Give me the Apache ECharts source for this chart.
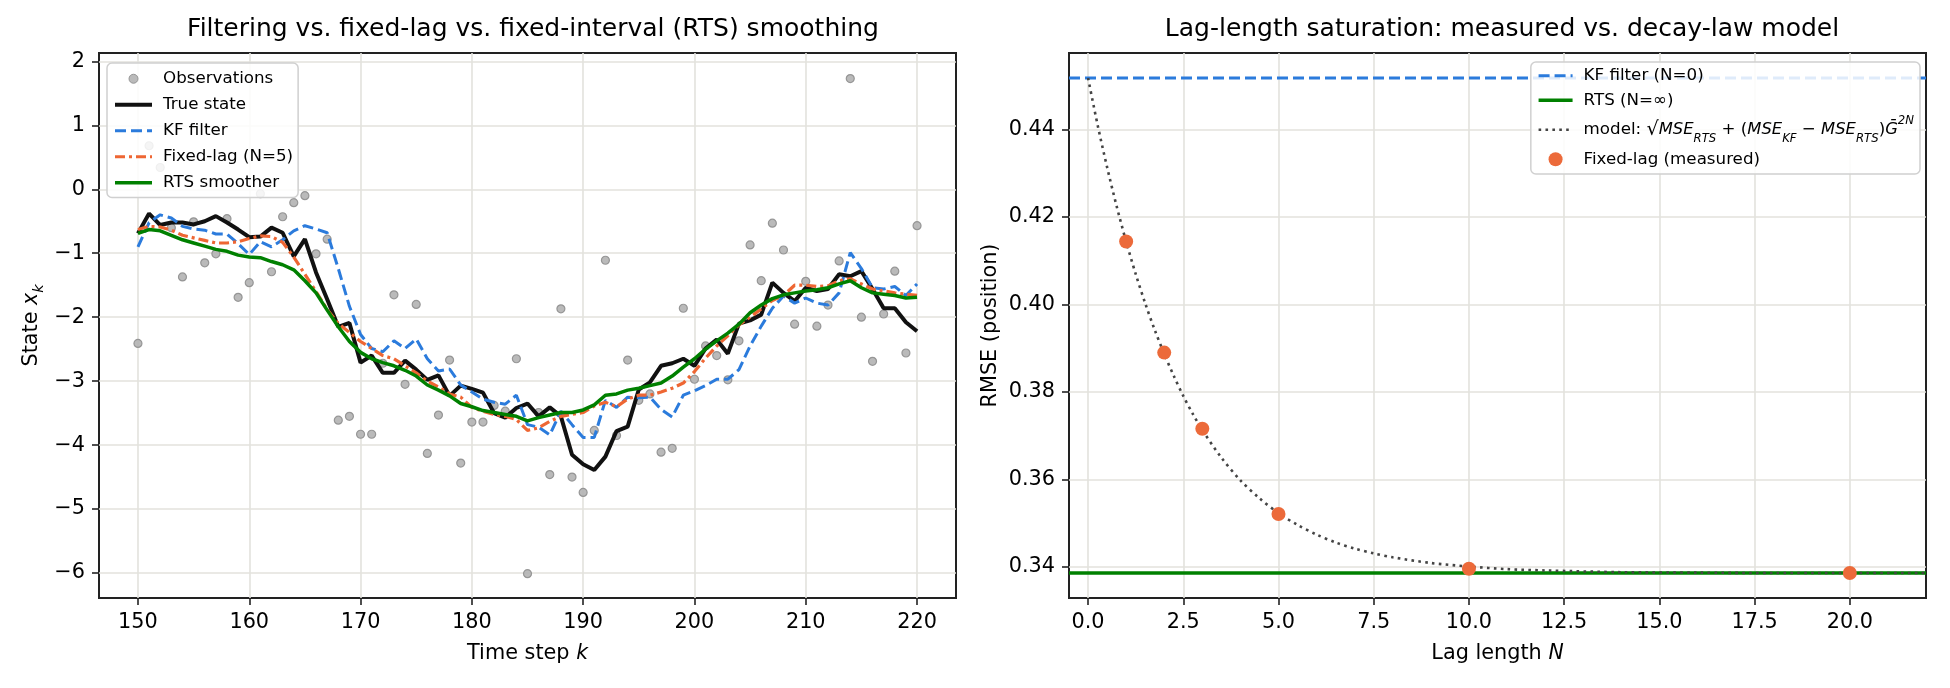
<!DOCTYPE html>
<html>
<head>
<meta charset="utf-8">
<script src="https://cdn.jsdelivr.net/npm/echarts@6/dist/echarts.min.js"></script>
<style>
  html, body { margin: 0; padding: 0; background: #fff; }
  #chart { width: 1950px; height: 688px; }
</style>
</head>
<body>
<div id="chart"></div>
<script>
// ---- left panel: time steps and state estimates ----
const K_STEPS = [150, 151, 152, 153, 154, 155, 156, 157, 158, 159, 160, 161, 162, 163, 164, 165, 166, 167, 168, 169,
  170, 171, 172, 173, 174, 175, 176, 177, 178, 179, 180, 181, 182, 183, 184, 185, 186, 187, 188, 189,
  190, 191, 192, 193, 194, 195, 196, 197, 198, 199, 200, 201, 202, 203, 204, 205, 206, 207, 208, 209,
  210, 211, 212, 213, 214, 215, 216, 217, 218, 219, 220]

const OBSERVATIONS = [-2.41, 0.68, 0.34, -0.60, -1.37, -0.51, -1.15, -1.01, -0.46, -1.69, -1.46, -0.07, -1.29, -0.43, -0.21, -0.10, -1.01, -0.78, -3.61, -3.55,
  -3.83, -3.83, -2.72, -1.65, -3.05, -1.80, -4.13, -3.53, -2.67, -4.28, -3.64, -3.64, -3.38, -3.47, -2.65, -6.01, -3.49, -4.46, -1.87, -4.50,
  -4.74, -3.77, -1.11, -3.85, -2.67, -3.30, -3.20, -4.11, -4.05, -1.86, -2.97, -2.45, -2.60, -2.98, -2.37, -0.87, -1.43, -0.53, -0.95, -2.11,
  -1.44, -2.14, -1.81, -1.12, 1.73, -2.00, -2.69, -1.95, -1.28, -2.56, -0.57]

const TRUE_STATE = [-0.69, -0.38, -0.56, -0.52, -0.52, -0.55, -0.50, -0.42, -0.52, -0.63, -0.75, -0.74, -0.60, -0.68, -1.05, -0.78, -1.30, -1.72, -2.15, -2.09,
  -2.71, -2.60, -2.87, -2.87, -2.68, -2.82, -2.98, -2.91, -3.23, -3.07, -3.12, -3.18, -3.50, -3.57, -3.42, -3.35, -3.55, -3.41, -3.55, -4.15,
  -4.30, -4.39, -4.18, -3.78, -3.71, -3.13, -3.02, -2.76, -2.72, -2.65, -2.76, -2.49, -2.35, -2.57, -2.10, -2.05, -1.96, -1.46, -1.62, -1.75,
  -1.54, -1.59, -1.56, -1.33, -1.36, -1.28, -1.56, -1.86, -1.86, -2.08, -2.22]

const KF_FILTER = [-0.90, -0.52, -0.40, -0.45, -0.58, -0.62, -0.64, -0.70, -0.70, -0.85, -1.02, -0.82, -0.90, -0.79, -0.65, -0.57, -0.62, -0.68, -1.24, -1.83,
  -2.27, -2.49, -2.54, -2.37, -2.49, -2.34, -2.65, -2.84, -2.81, -3.06, -3.17, -3.28, -3.33, -3.36, -3.22, -3.68, -3.72, -3.84, -3.47, -3.68,
  -3.88, -3.88, -3.30, -3.41, -3.25, -3.26, -3.25, -3.44, -3.56, -3.22, -3.15, -3.07, -2.97, -2.97, -2.82, -2.45, -2.14, -1.86, -1.67, -1.78,
  -1.70, -1.78, -1.81, -1.62, -0.99, -1.24, -1.54, -1.56, -1.52, -1.66, -1.48]

const FIXED_LAG = [-0.63, -0.58, -0.59, -0.64, -0.72, -0.76, -0.80, -0.84, -0.84, -0.82, -0.77, -0.73, -0.74, -0.83, -1.06, -1.33, -1.60, -1.88, -2.10, -2.24,
  -2.38, -2.49, -2.60, -2.65, -2.76, -2.87, -3.00, -3.09, -3.20, -3.25, -3.41, -3.47, -3.52, -3.55, -3.60, -3.77, -3.73, -3.63, -3.55, -3.52,
  -3.49, -3.39, -3.33, -3.40, -3.28, -3.22, -3.22, -3.17, -3.11, -3.03, -2.85, -2.64, -2.45, -2.29, -2.12, -2.00, -1.87, -1.74, -1.66, -1.50,
  -1.50, -1.52, -1.51, -1.43, -1.40, -1.48, -1.56, -1.59, -1.62, -1.64, -1.66]

const RTS_SMOOTHER = [-0.69, -0.63, -0.65, -0.72, -0.79, -0.84, -0.89, -0.94, -0.97, -1.03, -1.06, -1.07, -1.13, -1.18, -1.26, -1.43, -1.62, -1.89, -2.15, -2.38,
  -2.55, -2.65, -2.71, -2.76, -2.83, -2.92, -3.06, -3.14, -3.23, -3.35, -3.40, -3.46, -3.49, -3.52, -3.55, -3.62, -3.57, -3.53, -3.49, -3.49,
  -3.45, -3.37, -3.22, -3.20, -3.14, -3.11, -3.07, -3.03, -2.92, -2.78, -2.65, -2.50, -2.37, -2.25, -2.11, -1.93, -1.81, -1.71, -1.65, -1.62,
  -1.59, -1.57, -1.54, -1.48, -1.43, -1.54, -1.62, -1.64, -1.66, -1.70, -1.69]

const K_TICKS = [150, 160, 170, 180, 190, 200, 210, 220]
const STATE_TICKS = [-6, -5, -4, -3, -2, -1, 0, 1, 2]

// ---- right panel: lag-length saturation ----
const KF_RMSE = 0.4518
const RTS_RMSE = 0.3386
const LAG_RANGE = [-0.5, 22]
const MEASURED_N = [1, 2, 3, 5, 10, 20]
const MEASURED_RMSE = [0.4144, 0.3890, 0.3716, 0.3521, 0.3396, 0.3386]
const MODEL_N = [0, 0.25, 0.5, 0.75, 1, 1.25, 1.5, 1.75, 2, 2.25, 2.5, 2.75, 3, 3.5, 4, 4.5, 5, 5.5, 6, 6.5,
  7, 7.5, 8, 9, 10, 11, 12, 14, 16, 18, 22]
const MODEL_RMSE = [0.4518, 0.4411, 0.4314, 0.4225, 0.4144, 0.4070, 0.4003, 0.3942, 0.3887, 0.3837, 0.3791, 0.3750, 0.3713, 0.3650, 0.3598, 0.3557, 0.3523, 0.3496, 0.3474, 0.3456,
  0.3442, 0.3431, 0.3422, 0.3409, 0.3401, 0.3395, 0.3392, 0.3388, 0.3387, 0.3386, 0.3386]
const LAG_TICKS = [0, 2.5, 5, 7.5, 10, 12.5, 15, 17.5, 20]
const RMSE_TICKS = [0.34, 0.36, 0.38, 0.40, 0.42, 0.44]

const FONT = 'DejaVu Sans'
const INK = '#222'
const GRID_LINE = '#e3e2dd'
const BLUE = '#2b7bdc'
const ORANGE = '#ee6633'
const GREEN = '#008000'
const MODEL_GRAY = '#444'

const zip = (xs, ys) => xs.map((x, i) => [x, ys[i]])
const minus = (s) => String(s).replace('-', '\u2212')

const richMath = (size, lh) => ({
  n: { fontFamily: FONT, fontSize: size, color: '#000', lineHeight: lh },
  sq: { fontFamily: FONT, fontSize: size * 1.15, color: '#000', lineHeight: lh },
  it: { fontFamily: FONT, fontSize: size * 0.98, fontStyle: 'italic', color: '#000', lineHeight: lh },
  sub: { fontFamily: FONT, fontSize: size * 0.7, fontStyle: 'italic', color: '#000', lineHeight: size * 0.8, verticalAlign: 'bottom' },
  sup: { fontFamily: FONT, fontSize: size * 0.7, fontStyle: 'italic', color: '#000', lineHeight: size * 0.8, verticalAlign: 'top' }
})

function valueAxis(gridIndex, min, max, ticks, fmt, name, nameGap) {
  return {
    type: 'value',
    gridIndex,
    min,
    max,
    name,
    nameLocation: 'middle',
    nameGap,
    nameTextStyle: { fontFamily: FONT, fontSize: 20.8, color: '#000', rich: richMath(20.8, 31) },
    axisLine: { show: false, onZero: false },
    axisTick: { show: true, customValues: ticks, length: 7, lineStyle: { color: INK, width: 1.6 } },
    axisLabel: { customValues: ticks, formatter: fmt, margin: 14, fontFamily: FONT, fontSize: 20.8, color: '#000' },
    splitLine: { show: true, lineStyle: { color: GRID_LINE, width: 1.6 } }
  }
}

// legend entry for a plain line (no marker in the handle)
const lineEntry = (name, color, width, type) => ({
  name, itemStyle: { opacity: 0 }, lineStyle: { color, width, type: type || 'solid' }
})

const chart = echarts.init(document.getElementById('chart'), null, { renderer: 'canvas' })

chart.setOption({
  backgroundColor: '#fff',
  animation: false,
  title: [
    { text: 'Filtering vs. fixed-lag vs. fixed-interval (RTS) smoothing', left: 528, top: 12, textAlign: 'center',
      textStyle: { fontFamily: FONT, fontSize: 25, fontWeight: 'normal', color: '#000' } },
    { text: 'Lag-length saturation: measured vs. decay-law model', left: 1497, top: 12, textAlign: 'center',
      textStyle: { fontFamily: FONT, fontSize: 25, fontWeight: 'normal', color: '#000' } }
  ],
  grid: [
    { left: 99, top: 53, width: 857, height: 545, show: true, borderColor: INK, borderWidth: 2, backgroundColor: '#fff' },
    { left: 1069, top: 53, width: 857, height: 545, show: true, borderColor: INK, borderWidth: 2, backgroundColor: '#fff' }
  ],
  xAxis: [
    valueAxis(0, 146.5, 223.5, K_TICKS, (v) => String(v), '{n|Time step }{it|k}', 40),
    valueAxis(1, LAG_RANGE[0], LAG_RANGE[1], LAG_TICKS, (v) => v.toFixed(1), '{n|Lag length }{it|N}', 40)
  ],
  yAxis: [
    valueAxis(0, -6.39, 2.13, STATE_TICKS, (v) => minus(v), '{n|State }{it|x}{sub|k}', 52),
    valueAxis(1, 0.3329, 0.4575, RMSE_TICKS, (v) => v.toFixed(2), 'RMSE (position)', 68)
  ],
  legend: [
    {
      left: 107, top: 63, orient: 'vertical',
      data: [
        { name: 'Observations', icon: 'circle', itemStyle: { color: '#b3b3b3', borderColor: '#8f8f8f', borderWidth: 1 } },
        lineEntry('True state', '#111', 4),
        lineEntry('KF filter', BLUE, 3, [11, 5]),
        lineEntry('Fixed-lag (N=5)', ORANGE, 3, [10, 4, 3, 4]),
        lineEntry('RTS smoother', GREEN, 3.5)
      ],
      itemWidth: 37, itemHeight: 9, itemGap: 6.5,
      padding: [6, 5, 5, 6],
      backgroundColor: 'rgba(255,255,255,0.85)', borderColor: '#d0d0d0', borderWidth: 1.5, borderRadius: 5,
      textStyle: { fontFamily: FONT, fontSize: 16.7, color: '#000', lineHeight: 19.5, padding: [0, 0, 0, 6] }
    },
    {
      right: 30, top: 62, orient: 'vertical',
      data: [
        lineEntry('KF filter (N=0)', BLUE, 3, [11, 5]),
        lineEntry('RTS (N=\u221e)', GREEN, 3.5),
        lineEntry('model', MODEL_GRAY, 2.6, [2.6, 4.3]),
        { name: 'Fixed-lag (measured)', icon: 'circle', itemStyle: { color: '#ec6a3a' } }
      ],
      itemWidth: 34, itemHeight: 14, itemGap: 5,
      padding: [4, 6, 5, 6],
      backgroundColor: 'rgba(255,255,255,0.85)', borderColor: '#d0d0d0', borderWidth: 1.5, borderRadius: 5,
      formatter: (name) => name === 'model'
        ? '{n|model: }{sq|\u221a}{it|MSE}{sub|RTS}{n| + (}{it|MSE}{sub|KF}{n| \u2212 }{it|MSE}{sub|RTS}{n|)}{it|G\u0304}{sup|2N}'
        : name,
      textStyle: { fontFamily: FONT, fontSize: 16.7, color: '#000', lineHeight: 19.5, padding: [0, 0, 0, 6], rich: richMath(16.7, 29.5) }
    }
  ],
  series: [
    {
      name: 'Observations', type: 'scatter', xAxisIndex: 0, yAxisIndex: 0,
      data: zip(K_STEPS, OBSERVATIONS), symbolSize: 8,
      itemStyle: { color: '#b3b3b3', borderColor: '#8f8f8f', borderWidth: 1.2, opacity: 0.9 }, z: 2
    },
    {
      name: 'True state', type: 'line', xAxisIndex: 0, yAxisIndex: 0,
      data: zip(K_STEPS, TRUE_STATE), symbol: 'none',
      lineStyle: { color: '#111', width: 4 }, itemStyle: { color: '#111' }, z: 3
    },
    {
      name: 'KF filter', type: 'line', xAxisIndex: 0, yAxisIndex: 0,
      data: zip(K_STEPS, KF_FILTER), symbol: 'none',
      lineStyle: { color: BLUE, width: 3, type: [11, 5] }, itemStyle: { color: BLUE }, z: 4
    },
    {
      name: 'Fixed-lag (N=5)', type: 'line', xAxisIndex: 0, yAxisIndex: 0,
      data: zip(K_STEPS, FIXED_LAG), symbol: 'none',
      lineStyle: { color: ORANGE, width: 3.2, type: [10, 4, 3, 4] }, itemStyle: { color: ORANGE }, z: 5
    },
    {
      name: 'RTS smoother', type: 'line', xAxisIndex: 0, yAxisIndex: 0,
      data: zip(K_STEPS, RTS_SMOOTHER), symbol: 'none',
      lineStyle: { color: GREEN, width: 3.5 }, itemStyle: { color: GREEN }, z: 6
    },
    {
      name: 'KF filter (N=0)', type: 'line', xAxisIndex: 1, yAxisIndex: 1,
      data: LAG_RANGE.map((n) => [n, KF_RMSE]), symbol: 'none',
      lineStyle: { color: BLUE, width: 3, type: [11, 5] }, itemStyle: { color: BLUE }, z: 3
    },
    {
      name: 'RTS (N=\u221e)', type: 'line', xAxisIndex: 1, yAxisIndex: 1,
      data: LAG_RANGE.map((n) => [n, RTS_RMSE]), symbol: 'none',
      lineStyle: { color: GREEN, width: 3.5 }, itemStyle: { color: GREEN }, z: 3
    },
    {
      name: 'model', type: 'line', xAxisIndex: 1, yAxisIndex: 1,
      data: zip(MODEL_N, MODEL_RMSE), symbol: 'none', smooth: 0.3,
      lineStyle: { color: MODEL_GRAY, width: 2.6, type: [2.6, 4.3] }, itemStyle: { color: MODEL_GRAY }, z: 4
    },
    {
      name: 'Fixed-lag (measured)', type: 'scatter', xAxisIndex: 1, yAxisIndex: 1,
      data: zip(MEASURED_N, MEASURED_RMSE), symbolSize: 14,
      itemStyle: { color: '#ec6a3a', opacity: 1 }, z: 5
    }
  ]
})
</script>
</body>
</html>
